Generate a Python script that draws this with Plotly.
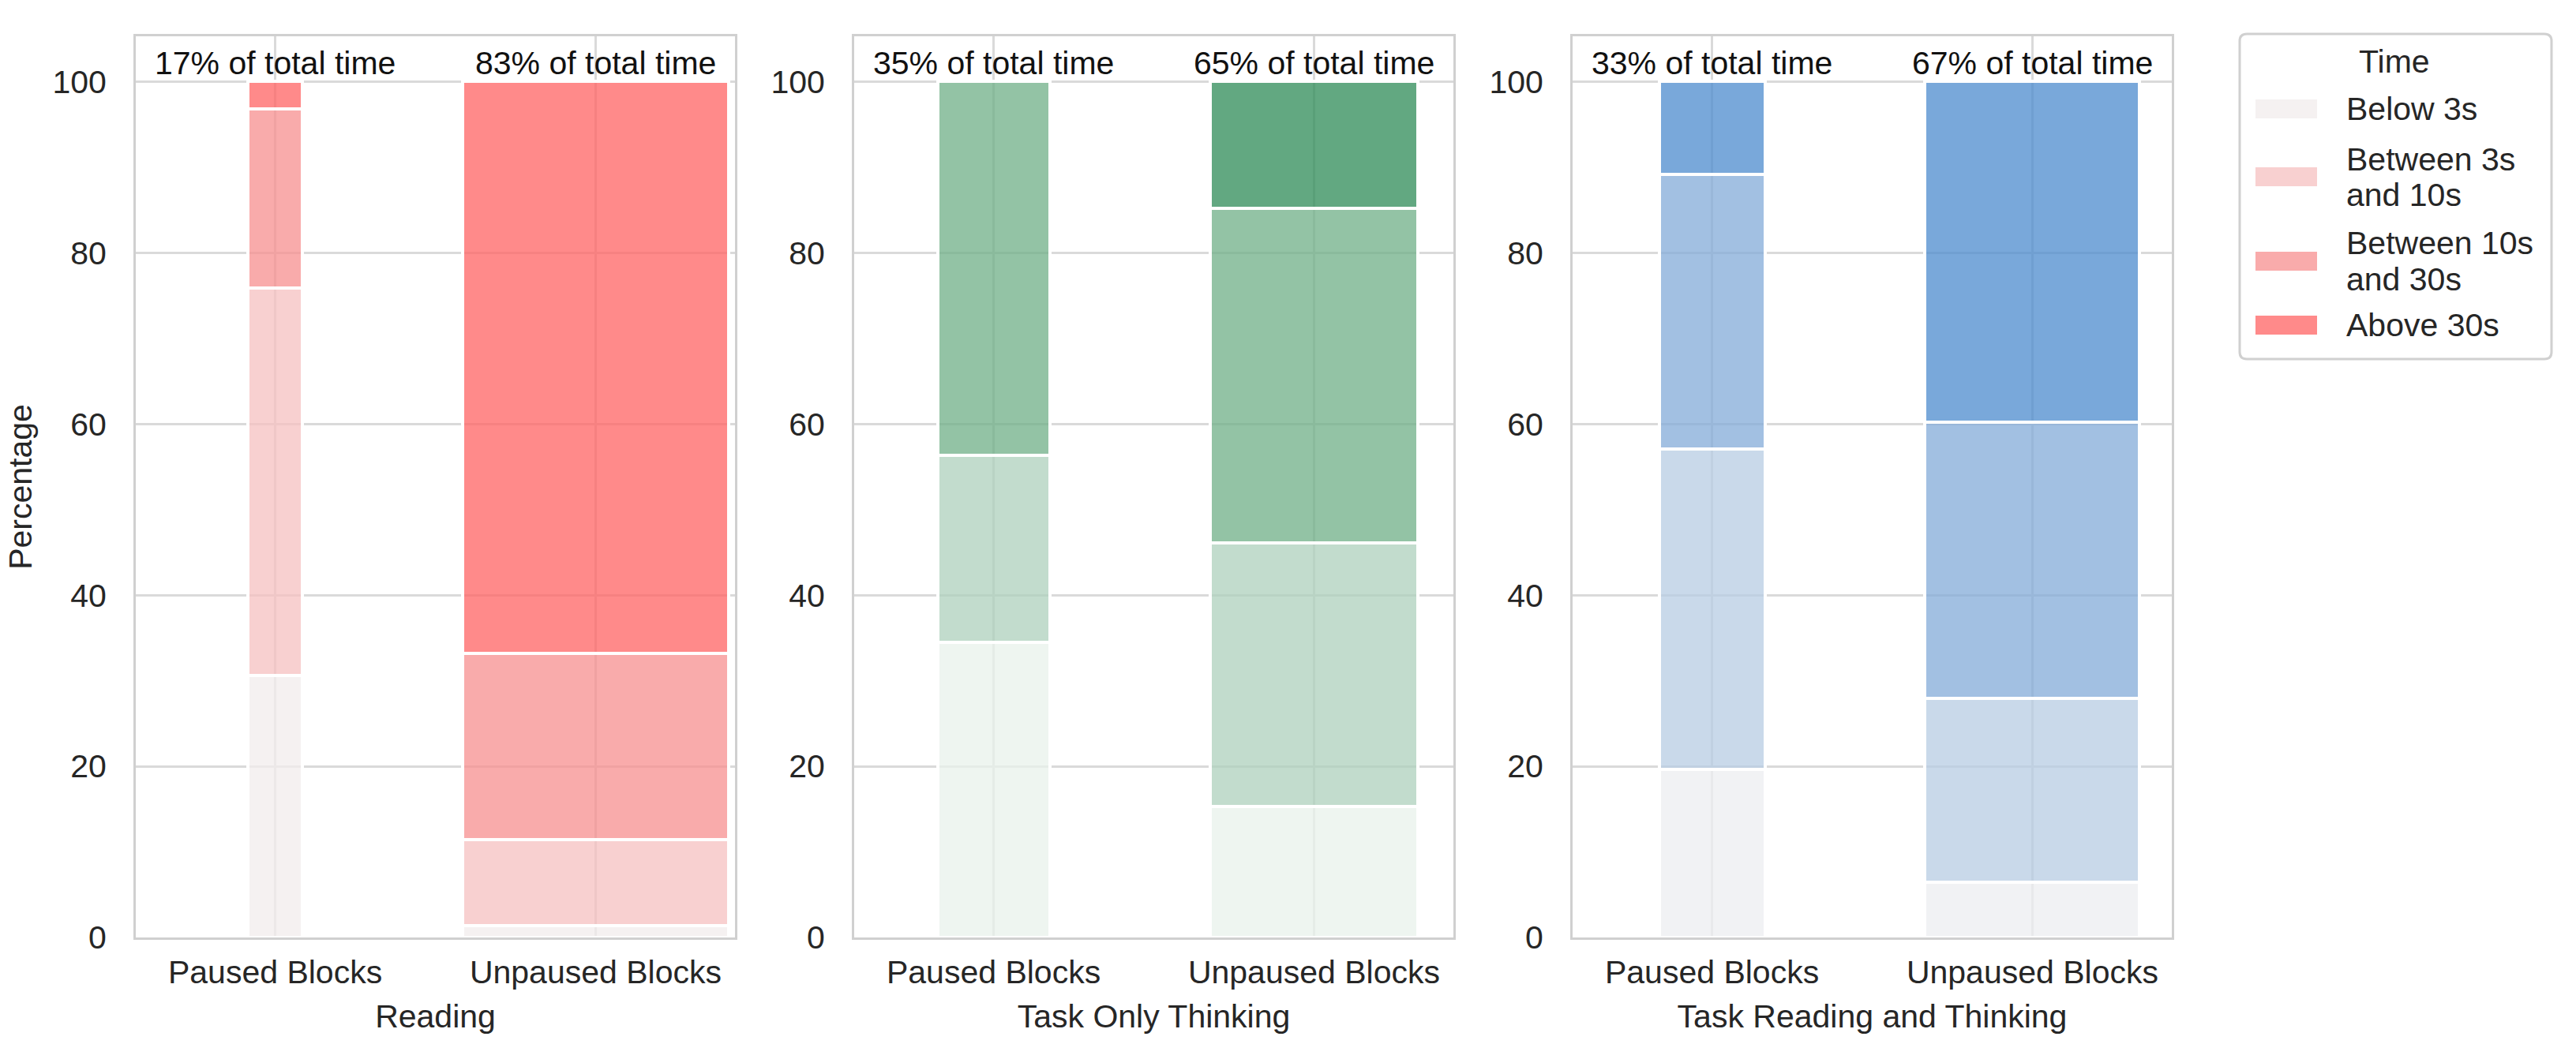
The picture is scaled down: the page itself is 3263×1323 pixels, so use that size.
import plotly.graph_objects as go

# ---------------- data ----------------
groups = ["Reading", "Task Only Thinking", "Task Reading and Thinking"]
blocks = ["Paused Blocks", "Unpaused Blocks"]
time_bins = ["Below 3s", "Between 3s<br>and 10s", "Between 10s<br>and 30s", "Above 30s"]

reading_paused = [30.6, 45.3, 20.9, 3.2]
reading_unpaused = [1.4, 10.0, 21.8, 66.8]
thinking_paused = [34.5, 21.8, 43.7, 0.0]
thinking_unpaused = [15.3, 30.8, 39.1, 14.8]
both_paused = [19.6, 37.5, 32.1, 10.8]
both_unpaused = [6.5, 21.4, 32.3, 39.8]

reading_share = [17, 83]
thinking_share = [35, 65]
both_share = [33, 67]

y_ticks = [0, 20, 40, 60, 80, 100]

# ---------------- styling ----------------
reds = ["rgba(242,236,236,0.75)", "rgba(246,192,192,0.75)", "rgba(247,143,143,0.75)", "rgba(255,99,99,0.75)"]
greens = ["rgba(232,242,235,0.75)", "rgba(174,208,188,0.75)", "rgba(111,175,135,0.75)", "rgba(46,139,87,0.75)"]
blues = ["rgba(236,237,240,0.75)", "rgba(183,204,227,0.75)", "rgba(131,171,216,0.75)", "rgba(76,139,206,0.75)"]

FONT = "Liberation Sans, Arial, sans-serif"
TXT = "#262626"
GRID = "#dadada"
FRAME = "#d0d0d0"
FS = 41

panels = [
    (reading_paused, reading_unpaused, reading_share, reds),
    (thinking_paused, thinking_unpaused, thinking_share, greens),
    (both_paused, both_unpaused, both_share, blues),
]

W, H = 3263, 1323
PLOT_L, PLOT_R, PLOT_T, PLOT_B = 172, 2751, 46, 1188
L, R, T, B = PLOT_L, W - PLOT_R, PLOT_T, H - PLOT_B
plot_w = PLOT_R - PLOT_L
plot_h = PLOT_B - PLOT_T


def px_x(px):
    return (px - PLOT_L) / plot_w


def px_y(py):
    return (PLOT_B - py) / plot_h


domains = [
    [0.0, px_x(931)],
    [px_x(1082), px_x(1841)],
    [px_x(1992), 1.0],
]

fig = go.Figure()
annotations = []
for p, (paused, unpaused, share, colors) in enumerate(panels):
    xa = "x" if p == 0 else f"x{p+1}"
    ya = "y" if p == 0 else f"y{p+1}"
    widths = [s / 100 for s in share]
    for k, tb in enumerate(time_bins):
        fig.add_trace(go.Bar(
            x=blocks,
            y=[paused[k], unpaused[k]],
            width=widths,
            name=tb.replace("<br>", " "),
            showlegend=False,
            marker=dict(color=colors[k], line=dict(color="white", width=4)),
            xaxis=xa, yaxis=ya,
            hoverinfo="x+y+name",
        ))
    for j, b in enumerate(blocks):
        annotations.append(dict(
            x=b, y=102.2, xref=xa, yref=ya,
            text=f"{share[j]}% of total time", showarrow=False,
            font=dict(family=FONT, size=FS, color="#111111"),
            xanchor="center", yanchor="middle",
        ))

# ---------------- legend (drawn in paper space) ----------------
shapes = []
lx0, lx1, ly0, ly1, rad = 2837, 3232, 43, 455, 9
path = (f"M {px_x(lx0 + rad)},{px_y(ly0)} L {px_x(lx1 - rad)},{px_y(ly0)} "
        f"Q {px_x(lx1)},{px_y(ly0)} {px_x(lx1)},{px_y(ly0 + rad)} "
        f"L {px_x(lx1)},{px_y(ly1 - rad)} Q {px_x(lx1)},{px_y(ly1)} {px_x(lx1 - rad)},{px_y(ly1)} "
        f"L {px_x(lx0 + rad)},{px_y(ly1)} Q {px_x(lx0)},{px_y(ly1)} {px_x(lx0)},{px_y(ly1 - rad)} "
        f"L {px_x(lx0)},{px_y(ly0 + rad)} Q {px_x(lx0)},{px_y(ly0)} {px_x(lx0 + rad)},{px_y(ly0)} Z")
shapes.append(dict(type="path", xref="paper", yref="paper", path=path,
                   line=dict(color=FRAME, width=3), fillcolor="white", layer="above"))
annotations.append(dict(x=px_x(3033), y=px_y(78), xref="paper", yref="paper",
                        text="Time", showarrow=False, xanchor="center", yanchor="middle",
                        font=dict(family=FONT, size=FS, color=TXT)))
item_centers = [138, 224, 331, 412]
LINE_GAP = 45
for k, tb in enumerate(time_bins):
    cy = item_centers[k]
    shapes.append(dict(type="rect", xref="paper", yref="paper",
                       x0=px_x(2857), x1=px_x(2935), y0=px_y(cy - 12), y1=px_y(cy + 12),
                       fillcolor=reds[k], line=dict(width=0), layer="above"))
    lines = tb.split("<br>")
    for i, ln in enumerate(lines):
        ty = cy + (i - (len(lines) - 1) / 2) * LINE_GAP
        annotations.append(dict(x=px_x(2970), y=px_y(ty), xref="paper", yref="paper",
                                text=ln, showarrow=False, xanchor="left", yanchor="middle",
                                font=dict(family=FONT, size=FS, color=TXT)))

layout = dict(
    width=W, height=H, autosize=False,
    margin=dict(l=L, r=R, t=T, b=B, pad=0),
    paper_bgcolor="white", plot_bgcolor="white",
    barmode="stack", bargap=0, showlegend=False,
    font=dict(family=FONT, size=FS, color=TXT),
    annotations=annotations,
    shapes=shapes,
)
for p in range(3):
    xk = "xaxis" if p == 0 else f"xaxis{p+1}"
    yk = "yaxis" if p == 0 else f"yaxis{p+1}"
    layout[xk] = dict(
        domain=domains[p], anchor="y" if p == 0 else f"y{p+1}",
        type="category", categoryorder="array", categoryarray=blocks,
        range=[-0.435, 1.435],
        showgrid=True, gridcolor=GRID, gridwidth=3,
        showline=True, linecolor=FRAME, linewidth=3, mirror=True,
        ticks="outside", ticklen=6, tickcolor="rgba(0,0,0,0)",
        tickfont=dict(size=FS, color=TXT),
        title=dict(text=groups[p], standoff=20, font=dict(size=FS, color=TXT)),
        zeroline=False, fixedrange=True,
    )
    layout[yk] = dict(
        domain=[0, 1], anchor="x" if p == 0 else f"x{p+1}",
        range=[0, 105.3], tickvals=y_ticks,
        showgrid=True, gridcolor=GRID, gridwidth=3,
        showline=True, linecolor=FRAME, linewidth=3, mirror=True,
        ticks="outside", ticklen=26, tickcolor="rgba(0,0,0,0)",
        tickfont=dict(size=FS, color=TXT),
        zeroline=False, fixedrange=True,
        title=dict(text="Percentage" if p == 0 else "", standoff=14,
                   font=dict(size=FS, color=TXT)),
    )
fig.update_layout(**layout)

fig.write_html("out.html", config={"displayModeBar": False},
               post_script="document.body.style.margin='0px';")
